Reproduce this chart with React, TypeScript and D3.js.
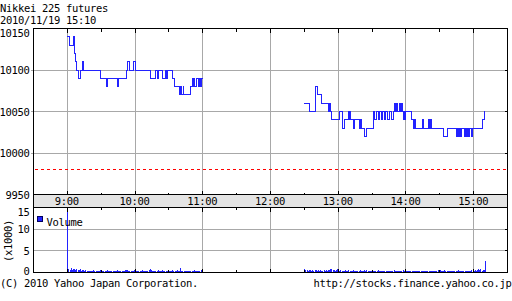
import React from "react";
import * as d3 from "d3";

const titleText = "Nikkei 225 futures";
const dateText = "2010/11/19 15:10";
const footerLeft = "(C) 2010 Yahoo Japan Corporation.";
const footerRight = "http://stocks.finance.yahoo.co.jp";

const priceTicks = [9950, 10000, 10050, 10100, 10150];
const volTicks = [0, 5, 10, 15];
const hourTicks = [9, 10, 11, 12, 13, 14, 15];
const hourLabels = ["9:00", "10:00", "11:00", "12:00", "13:00", "14:00", "15:00"];
const prevClose = 9980;

// [minutes since 9:00, price]
const morningPrice: [number, number][] = [
  [0, 10140], [2, 10130], [5, 10140], [6, 10120], [7, 10110], [8.5, 10100],
  [10, 10090], [11.5, 10100], [13.5, 10110], [14.5, 10100], [29, 10090],
  [35, 10080], [36, 10090], [44, 10080], [45, 10090], [52, 10100], [53, 10110],
  [55.5, 10100], [59, 10110], [60.5, 10100], [74, 10090], [78, 10100],
  [80, 10090], [81, 10100], [84, 10090], [87, 10100], [88, 10090], [88.7, 10100],
  [93, 10090], [95, 10080], [99, 10070], [100, 10080], [100.8, 10070],
  [102.5, 10080], [103.3, 10070], [108.7, 10080], [110.5, 10090], [111.3, 10080],
  [112, 10090], [113, 10080], [114, 10090], [116, 10080], [117, 10090],
  [118, 10080], [118.8, 10090], [120, 10090],
];

// [minutes since 12:30, price]
const afternoonPrice: [number, number][] = [
  [0, 10060], [4.9, 10050], [9.8, 10080], [11.7, 10070], [15.2, 10060],
  [21.1, 10050], [22, 10060], [23, 10050], [24.1, 10040], [30.9, 10050],
  [33.8, 10030], [35.9, 10040], [38.9, 10050], [39.7, 10040], [40.5, 10050],
  [41.3, 10040], [43.3, 10030], [44.8, 10040], [48.6, 10030], [50.1, 10040],
  [50.7, 10030], [53.6, 10020], [55.1, 10030], [61.6, 10050], [62.5, 10040],
  [63.5, 10050], [66, 10040], [67, 10050], [68.5, 10040], [69.5, 10050],
  [71, 10040], [72, 10050], [74, 10040], [75, 10050], [77, 10040], [78.6, 10050],
  [80.2, 10060], [81, 10050], [81.7, 10060], [82.5, 10050], [84, 10060],
  [84.8, 10050], [86, 10060], [86.8, 10050], [87.6, 10040], [88.3, 10050],
  [89, 10040], [89.8, 10050], [95, 10040], [96.5, 10030], [97.3, 10040],
  [98.2, 10030], [104.5, 10040], [105.3, 10030], [109.8, 10040], [110.6, 10030],
  [111.5, 10040], [112.5, 10030], [123, 10020], [126.5, 10030], [134.8, 10020],
  [135.6, 10030], [137, 10020], [137.8, 10030], [138.5, 10020], [139.3, 10030],
  [142.3, 10020], [143.1, 10030], [144, 10020], [144.8, 10030], [145.8, 10020],
  [146.7, 10030], [148, 10020], [148.8, 10030], [158, 10040], [159.4, 10050],
  [160, 10050],
];

// volume per minute (x1000), from 9:00
const morningVol = [
  14.2, 0.9, 0.5, 1.0, 0.6, 0.8, 0.7, 0.5, 0.9, 0.6,
  0.5, 0.7, 0.4, 0.6, 0.5, 0.4, 0.5, 0.4, 0.3, 0.4,
  0.3, 0.4, 0.3, 0.5, 0.3, 0.4, 0.3, 0.3, 0.4, 0.5,
  0.4, 0.3, 0.3, 0.4, 0.3, 0.5, 0.4, 0.3, 0.3, 0.4,
  0.3, 0.4, 0.3, 0.3, 0.5, 0.4, 0.3, 0.4, 0.3, 0.3,
  0.4, 0.5, 0.6, 0.5, 0.4, 0.3, 0.4, 0.3, 0.4, 0.5,
  0.4, 0.3, 0.4, 0.3, 0.3, 0.4, 0.5, 0.3, 0.4, 0.3,
  0.4, 0.3, 0.5, 0.9, 0.5, 0.4, 0.3, 0.4, 0.3, 0.4,
  0.5, 0.3, 0.4, 0.3, 0.5, 0.3, 0.4, 0.3, 0.4, 0.3,
  0.3, 0.4, 0.3, 0.5, 0.4, 0.3, 0.4, 0.5, 0.4, 0.3,
  1.1, 0.4, 0.3, 0.4, 0.3, 0.4, 0.3, 0.3, 0.4, 0.3,
  0.4, 0.3, 0.5, 0.4, 0.3, 0.4, 0.3, 0.4, 0.5, 0.6,
];

// volume per minute (x1000), from 12:30
const afternoonVol = [
  0.7, 0.5, 0.6, 0.4, 0.5, 0.6, 0.4, 0.5, 0.3, 0.6,
  0.5, 0.4, 0.6, 0.4, 0.5, 0.3, 0.4, 0.6, 0.4, 0.5,
  0.4, 0.5, 0.6, 0.7, 0.9, 0.6, 0.5, 0.4, 0.6, 0.7,
  0.5, 0.4, 0.5, 0.4, 0.3, 0.4, 0.5, 0.4, 0.3, 0.5,
  0.4, 0.3, 0.4, 0.5, 0.4, 0.3, 0.4, 0.3, 0.4, 0.5,
  0.4, 0.3, 0.4, 0.5, 0.4, 0.6, 0.4, 0.3, 0.4, 0.3,
  0.4, 0.3, 0.4, 0.3, 0.4, 0.5, 0.3, 0.4, 0.3, 0.4,
  0.3, 0.4, 0.3, 0.4, 0.3, 0.3, 0.4, 0.3, 0.4, 0.5,
  0.4, 0.3, 0.4, 0.3, 0.4, 0.3, 0.4, 0.5, 0.3, 0.4,
  0.3, 0.4, 0.3, 0.3, 0.4, 0.3, 0.4, 0.3, 0.4, 0.3,
  0.4, 0.3, 0.3, 0.4, 0.3, 0.4, 0.3, 0.4, 0.3, 0.4,
  0.3, 0.4, 0.3, 0.4, 0.3, 0.4, 0.3, 0.4, 0.5, 0.4,
  0.6, 0.4, 0.3, 0.4, 0.5, 0.4, 0.3, 0.4, 0.3, 0.4,
  0.3, 0.4, 0.3, 0.4, 0.3, 0.4, 0.5, 0.4, 0.3, 0.4,
  0.3, 0.4, 0.3, 0.4, 0.3, 0.4, 0.3, 0.4, 0.5, 0.4,
  0.4, 0.5, 0.4, 0.6, 0.8, 0.5, 0.9, 0.4, 0.5, 0.6, 2.6,
];

const W = 512;
const H = 301;
const L = 33.5;
const R = 507.5;
const PT = 28.5;
const PB = 194.5;
const VT = 207.5;
const VB = 272.5;
const FONT = "'DejaVu Sans Mono', monospace";
const BLUE = "#2222ff";
const GRID = "#a8a8a8";

const crisp = (v: number) => Math.round(v - 0.5) + 0.5;

export default function App() {
  const x = d3.scaleLinear().domain([8.5 * 60, 15.5 * 60]).range([L, R]);
  const yP = d3.scaleLinear().domain([9950, 10150]).range([PB, PT]);
  const yV = d3.scaleLinear().domain([0, 15]).range([VB, VT]);

  const line = d3
    .line<[number, number]>()
    .x((d) => x(d[0]))
    .y((d) => crisp(yP(d[1])))
    .curve(d3.curveStepAfter);

  const mPts = morningPrice.map((d) => [540 + d[0], d[1]] as [number, number]);
  const aPts = afternoonPrice.map((d) => [750 + d[0], d[1]] as [number, number]);

  const halfHours = d3.range(9 * 60, 15 * 60 + 1, 30);

  const volBars = [
    ...morningVol.map((v, i) => ({ t: 540 + i, v })),
    ...afternoonVol.map((v, i) => ({ t: 750 + i, v })),
  ];

  const textStyle: React.CSSProperties = { fontFamily: FONT, fontSize: 10.5, letterSpacing: "-0.32px" };
  const dashY = crisp(yP(prevClose));
  const dashes = d3.range(L, R, 6);

  return (
    <svg
      width={W}
      height={H}
      viewBox={`0 0 ${W} ${H}`}
      style={{ position: "absolute", left: 0, top: 0, background: "#fff", display: "block" }}
    >
      <rect x={0} y={0} width={W} height={H} fill="#fff" />
      <g style={textStyle} fill="#000">
        <text x={0} y={11.5}>{titleText}</text>
        <text x={0} y={23.5}>{dateText}</text>
      </g>

      {/* band */}
      <rect x={L} y={PB} width={R - L} height={VT - PB} fill="#e4e4e4" />

      {/* grid */}
      <g stroke={GRID} strokeWidth={1} shapeRendering="crispEdges">
        {hourTicks.map((h) => (
          <g key={h}>
            <line x1={crisp(x(h * 60))} x2={crisp(x(h * 60))} y1={PT} y2={PB} />
            <line x1={crisp(x(h * 60))} x2={crisp(x(h * 60))} y1={VT} y2={VB} />
          </g>
        ))}
        {priceTicks.slice(1, -1).map((p) => (
          <line key={p} x1={L - 3} x2={R} y1={crisp(yP(p))} y2={crisp(yP(p))} />
        ))}
        {volTicks.slice(1, -1).map((v) => (
          <line key={v} x1={L} x2={R} y1={crisp(yV(v))} y2={crisp(yV(v))} />
        ))}
      </g>

      {/* previous close (dashed red) */}
      <g fill="#ff0000">
        {dashes.map((dx) => (
          <rect key={dx} x={Math.round(dx) + 1} y={dashY - 0.5} width={3} height={1} />
        ))}
      </g>

      {/* price lines */}
      <g fill="none" stroke={BLUE} strokeWidth={1} shapeRendering="crispEdges">
        <path d={line(mPts) || ""} />
        <path d={line(aPts) || ""} />
      </g>

      {/* volume bars */}
      <g fill={BLUE} shapeRendering="crispEdges">
        {volBars.map((b, i) => (
          <rect
            key={i}
            x={Math.round(x(b.t))}
            y={yV(b.v)}
            width={1}
            height={VB - yV(b.v)}
          />
        ))}
      </g>

      {/* frames and ticks */}
      <g stroke="#000" strokeWidth={1} fill="none" shapeRendering="crispEdges">
        <rect x={L} y={PT} width={R - L} height={PB - PT} />
        <rect x={L} y={PB} width={R - L} height={VT - PB} />
        <rect x={L} y={VT} width={R - L} height={VB - VT} />
        {halfHours.map((t) => {
          const major = t % 60 === 0;
          const len = major ? 4 : 2;
          const xx = crisp(x(t));
          return (
            <g key={t}>
              <line x1={xx} x2={xx} y1={PT} y2={PT + (major ? 4 : 3)} />
              <line x1={xx} x2={xx} y1={PB} y2={PB - len} />
              <line x1={xx} x2={xx} y1={VT} y2={VT + len} />
              <line x1={xx} x2={xx} y1={VB} y2={VB - (major ? 4 : 3)} />
            </g>
          );
        })}
        {priceTicks.slice(1, -1).map((p) => (
          <line key={p} x1={R - 3} x2={R} y1={crisp(yP(p))} y2={crisp(yP(p))} />
        ))}
        {volTicks.slice(1, -1).map((v) => (
          <line key={v} x1={R - 3} x2={R} y1={crisp(yV(v))} y2={crisp(yV(v))} />
        ))}
      </g>

      {/* axis labels */}
      <g style={textStyle} fill="#000">
        {priceTicks.map((p, i) => (
          <text
            key={p}
            x={29.5}
            y={i === priceTicks.length - 1 ? 37 : yP(p) + 4}
            textAnchor="end"
          >
            {p}
          </text>
        ))}
        {volTicks.map((v) => (
          <text key={v} x={29.5} y={Math.max(yV(v) + (v === 0 ? 2.5 : 4), 216)} textAnchor="end">
            {v}
          </text>
        ))}
        {hourTicks.map((h, i) => (
          <text key={h} x={x(h * 60) - 0.5} y={204.5} textAnchor="middle">
            {hourLabels[i]}
          </text>
        ))}
        <text transform="translate(11.5,241) rotate(-90)" textAnchor="middle">
          (x1000)
        </text>
        <text x={46.5} y={226}>Volume</text>
        <text x={0} y={287}>{footerLeft}</text>
        <text x={511.5} y={287} textAnchor="end">{footerRight}</text>
      </g>

      {/* legend swatch */}
      <rect x={37.5} y={216.5} width={5} height={5} fill={BLUE} stroke="#000060" shapeRendering="crispEdges" />
    </svg>
  );
}
